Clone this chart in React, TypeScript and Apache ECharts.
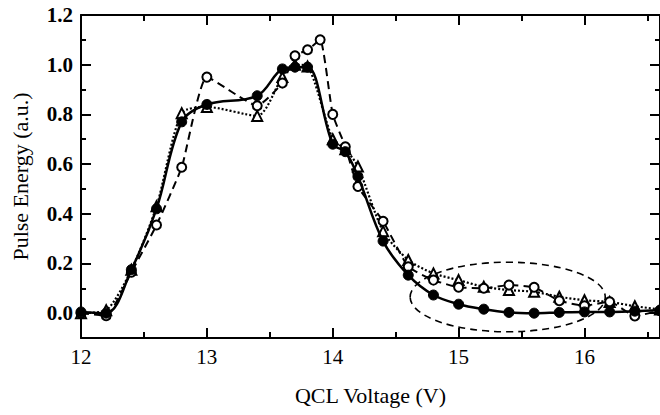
import React, { useEffect, useRef } from "react";
import * as echarts from "echarts";

// Solid line, filled circles
const solidX = [12.0, 12.2, 12.4, 12.6, 12.8, 13.0, 13.4, 13.6, 13.7, 13.8, 14.0, 14.1, 14.2, 14.4, 14.6, 14.8, 15.0, 15.2, 15.4, 15.6, 15.8, 16.0, 16.2, 16.4, 16.6];
const solidY = [0.005, 0.0, 0.175, 0.42, 0.77, 0.84, 0.875, 0.983, 0.99, 0.99, 0.68, 0.65, 0.55, 0.29, 0.153, 0.073, 0.036, 0.016, 0.003, 0.0, 0.003, 0.005, 0.005, 0.008, 0.012];

// Dashed line, open circles
const dashX = [12.0, 12.2, 12.4, 12.6, 12.8, 13.0, 13.4, 13.6, 13.7, 13.8, 13.9, 14.0, 14.1, 14.2, 14.4, 14.6, 14.8, 15.0, 15.2, 15.4, 15.6, 15.8, 16.0, 16.2, 16.4, 16.6];
const dashY = [0.0, -0.01, 0.165, 0.355, 0.587, 0.95, 0.835, 0.926, 1.036, 1.06, 1.10, 0.80, 0.67, 0.51, 0.37, 0.187, 0.133, 0.104, 0.10, 0.113, 0.104, 0.05, 0.03, 0.046, -0.011, 0.01];

// Dotted line, open triangles
const dotX = [12.0, 12.2, 12.4, 12.6, 12.8, 13.0, 13.4, 13.6, 13.7, 13.8, 14.0, 14.1, 14.2, 14.4, 14.6, 14.8, 15.0, 15.2, 15.4, 15.6, 15.8, 16.0, 16.2, 16.4, 16.6];
const dotY = [0.0, 0.012, 0.175, 0.43, 0.805, 0.83, 0.794, 0.95, 1.0, 0.993, 0.70, 0.66, 0.59, 0.33, 0.214, 0.16, 0.133, 0.106, 0.093, 0.086, 0.066, 0.052, 0.045, 0.028, 0.015];

// Axis ticks / labels
const xMajor = [12, 13, 14, 15, 16];
const xMinor = [12.5, 13.5, 14.5, 15.5, 16.5];
const yMajor = [0.0, 0.2, 0.4, 0.6, 0.8, 1.0, 1.2];
const yMinor = [-0.1, 0.1, 0.3, 0.5, 0.7, 0.9, 1.1];

// Dashed ellipse annotation (data units): centre and half-axes
const ellipseCenter = [15.39, 0.065];
const ellipseHalf = [0.775, 0.14];

const FONT = "Liberation Serif";
const pairs = (xs: number[], ys: number[]) => xs.map((x, i) => [x, ys[i]]);

export default function App() {
  const ref = useRef<HTMLDivElement>(null);
  useEffect(() => {
    const chart = echarts.init(ref.current!, null, { renderer: "svg" });
    const lineStyle = { color: "#000", width: 2 };
    const mkX = (pos: string, ticks: number[], len: number, labels: boolean, line: boolean) => ({
      type: "value",
      position: pos,
      min: 12,
      max: 16.6,
      axisLine: { show: line, onZero: false, lineStyle },
      axisTick: { show: true, inside: true, length: len, customValues: ticks, lineStyle: { color: "#000", width: 2 } },
      axisLabel: labels
        ? { show: true, customValues: xMajor, color: "#000", fontFamily: FONT, fontSize: 21, margin: 8 }
        : { show: false },
      splitLine: { show: false },
    });
    const mkY = (pos: string, ticks: number[], len: number, labels: boolean, line: boolean) => ({
      type: "value",
      position: pos,
      min: -0.1,
      max: 1.2,
      axisLine: { show: line, onZero: false, lineStyle },
      axisTick: { show: true, inside: true, length: len, customValues: ticks, lineStyle: { color: "#000", width: 2 } },
      axisLabel: labels
        ? {
            show: true,
            customValues: yMajor,
            color: "#000",
            fontFamily: FONT,
            fontSize: 21,
            fontWeight: "bold",
            margin: 8,
            formatter: (v: number) => v.toFixed(1),
          }
        : { show: false },
      splitLine: { show: false },
    });
    const xMain: any = mkX("bottom", xMajor, 10, true, true);
    xMain.name = "QCL Voltage (V)";
    xMain.nameLocation = "middle";
    xMain.nameGap = 46;
    xMain.nameTextStyle = { fontFamily: FONT, fontSize: 22, color: "#000000" };
    const yMain: any = mkY("left", yMajor, 10, true, true);
    yMain.name = "Pulse Energy (a.u.)";
    yMain.nameLocation = "middle";
    yMain.nameGap = 50;
    yMain.nameTextStyle = { fontFamily: FONT, fontSize: 22, color: "#000000" };

    chart.setOption({
      animation: false,
      backgroundColor: "#fff",
      grid: { left: 81, top: 15, right: 0, bottom: 77, containLabel: false },
      xAxis: [
        xMain,
        mkX("bottom", xMinor, 6, false, false),
        mkX("top", xMajor, 10, false, true),
        mkX("top", xMinor, 6, false, false),
      ],
      yAxis: [
        yMain,
        mkY("left", yMinor, 5, false, false),
        mkY("right", yMajor, 10, false, true),
        mkY("right", yMinor, 5, false, false),
      ],
      series: [
        {
          type: "line",
          name: "triangles",
          data: pairs(dotX, dotY),
          smooth: 0.25,
          symbol: "triangle",
          symbolSize: 10,
          itemStyle: { color: "#fff", borderColor: "#000", borderWidth: 2 },
          lineStyle: { color: "#000", width: 2.2, type: [2, 2] },
          z: 2,
        },
        {
          type: "line",
          name: "open",
          data: pairs(dashX, dashY),
          smooth: 0.15,
          symbol: "circle",
          symbolSize: 9,
          itemStyle: { color: "#fff", borderColor: "#000", borderWidth: 2 },
          lineStyle: { color: "#000", width: 2, type: [8, 5] },
          z: 3,
        },
        {
          type: "line",
          name: "filled",
          data: pairs(solidX, solidY),
          smooth: 0.35,
          symbol: "circle",
          symbolSize: 10,
          itemStyle: { color: "#000", borderColor: "#000", borderWidth: 1 },
          lineStyle: { color: "#000", width: 2.5 },
          z: 4,
        },
      ],
    });

    const c = chart.convertToPixel({ xAxisIndex: 0, yAxisIndex: 0 }, ellipseCenter) as number[];
    const e = chart.convertToPixel(
      { xAxisIndex: 0, yAxisIndex: 0 },
      [ellipseCenter[0] + ellipseHalf[0], ellipseCenter[1] + ellipseHalf[1]]
    ) as number[];
    chart.setOption({
      graphic: [
        {
          type: "ellipse",
          z: 100,
          shape: { cx: c[0], cy: c[1], rx: Math.abs(e[0] - c[0]), ry: Math.abs(c[1] - e[1]) },
          style: { fill: "none", stroke: "#000", lineWidth: 1.6, lineDash: [7, 5] },
        },
      ],
    });
    return () => chart.dispose();
  }, []);
  return <div ref={ref} style={{ position: "fixed", left: 0, top: 0, width: 660, height: 415 }} />;
}
